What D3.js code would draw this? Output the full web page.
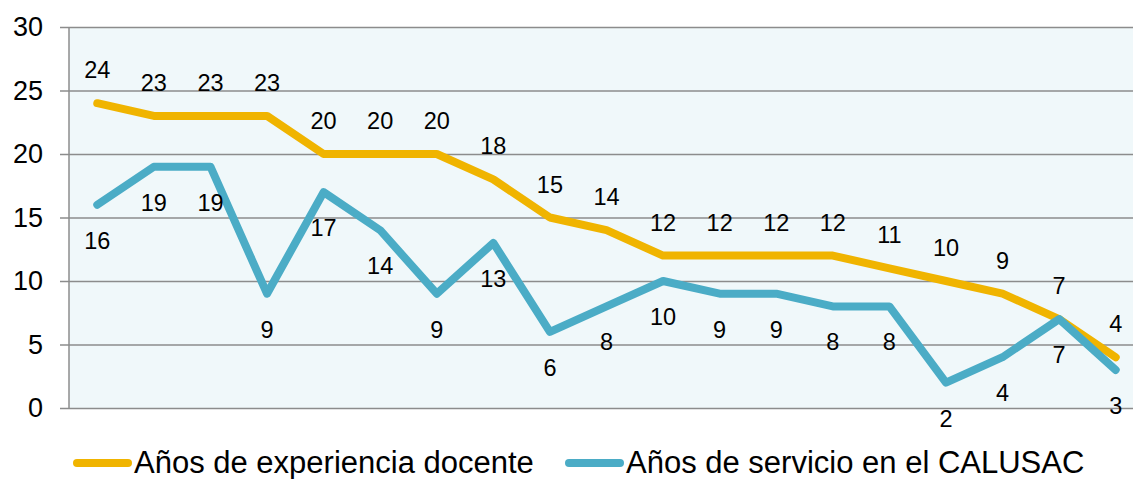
<!DOCTYPE html>
<html>
<head>
<meta charset="utf-8">
<script src="https://cdn.jsdelivr.net/npm/d3@7"></script>
<style>
  body { margin: 0; background: #fff; }
  text { font-family: "Liberation Sans", Arial, sans-serif; fill: #000; }
</style>
</head>
<body>
<div id="chart"></div>
<script>
const categories = d3.range(1, 20);
const experiencia = [24, 23, 23, 23, 20, 20, 20, 18, 15, 14, 12, 12, 12, 12, 11, 10, 9, 7, 4];
const servicio = [16, 19, 19, 9, 17, 14, 9, 13, 6, 8, 10, 9, 9, 8, 8, 2, 4, 7, 3];
const yTicks = [0, 5, 10, 15, 20, 25, 30];
const seriesNames = ["Años de experiencia docente", "Años de servicio en el CALUSAC"];

var margin = { top: 27, right: 0, bottom: 71, left: 69 },
  width = 1075,
  height = 479 - margin.top - margin.bottom;

var x = d3.scaleBand().domain(categories).range([0, width]);
var y = d3.scaleLinear().domain([0, 30]).range([height, 0]);

var svg = d3.select("#chart").append("svg")
  .attr("width", 1133).attr("height", 479);

var g = svg.append("g")
  .attr("transform", "translate(" + margin.left + "," + margin.top + ")");

// plot background
g.append("rect")
  .attr("x", 0).attr("y", 0)
  .attr("width", width).attr("height", height)
  .attr("fill", "#f0f8fa");

// gridlines + y axis
var yAxis = d3.axisLeft(y).tickValues(yTicks).tickSize(-width).tickPadding(26);
var ya = g.append("g").call(yAxis);
ya.select(".domain").remove();
ya.selectAll(".tick line").attr("stroke", "#8c8c8c").attr("stroke-width", 1.5).attr("x1", -9);
ya.selectAll(".tick text").attr("font-size", 27).attr("fill", "#000");

g.append("line")
  .attr("x1", 0).attr("x2", 0).attr("y1", 0).attr("y2", height)
  .attr("stroke", "#8c8c8c").attr("stroke-width", 1.5);

var cx = d => x(d) + x.bandwidth() / 2;
var series = [
  { values: experiencia, color: "#f0b400", dy: -25 },
  { values: servicio, color: "#4bacc6", dy: 44 }
];

var line = d3.line().x((d, i) => cx(categories[i])).y(d => y(d));

series.forEach(function (s) {
  g.append("path")
    .datum(s.values)
    .attr("d", line)
    .attr("fill", "none")
    .attr("stroke", s.color)
    .attr("stroke-width", 8)
    .attr("stroke-linecap", "round")
    .attr("stroke-linejoin", "round");
});

series.forEach(function (s) {
  g.selectAll(null)
    .data(s.values)
    .enter().append("text")
    .attr("x", (d, i) => cx(categories[i]))
    .attr("y", d => y(d) + s.dy)
    .attr("text-anchor", "middle")
    .attr("font-size", 23.5)
    .text(d => d);
});

// legend
var legend = svg.append("g").attr("transform", "translate(0,463)");
var legendPos = [77, 569];
seriesNames.forEach(function (name, i) {
  legend.append("line")
    .attr("x1", legendPos[i]).attr("x2", legendPos[i] + 51)
    .attr("stroke", series[i].color).attr("stroke-width", 8)
    .attr("stroke-linecap", "round");
  legend.append("text")
    .attr("x", legendPos[i] + 57).attr("y", 9.5)
    .attr("font-size", 31)
    .text(name);
});
</script>
</body>
</html>
